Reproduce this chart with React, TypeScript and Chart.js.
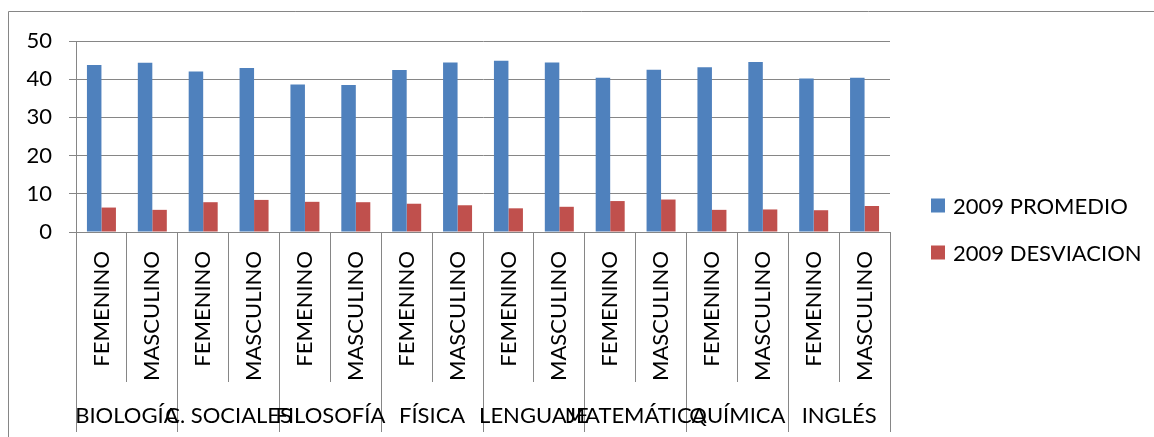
import React, { useEffect, useRef } from "react";
import { Chart, registerables } from "chart.js";

Chart.register(...registerables);

const SUBJECTS = ["BIOLOGÍA", "C. SOCIALES", "FILOSOFÍA", "FÍSICA", "LENGUAJE", "MATEMÁTICA", "QUÍMICA", "INGLÉS"];
const GENDERS = ["FEMENINO", "MASCULINO"];
const CATEGORIES = SUBJECTS.flatMap(() => GENDERS);
const PROMEDIO = [43.7, 44.3, 42.0, 42.9, 38.6, 38.5, 42.4, 44.4, 44.8, 44.4, 40.4, 42.5, 43.1, 44.5, 40.2, 40.4];
const DESVIACION = [6.4, 5.8, 7.8, 8.4, 7.9, 7.8, 7.4, 7.0, 6.2, 6.6, 8.1, 8.5, 5.8, 5.9, 5.7, 6.8];
const SERIES_LABELS = ["2009 PROMEDIO", "2009 DESVIACION"];
const COLORS = ["#4F81BD", "#C0504D"];
const Y_MIN = 0;
const Y_MAX = 50;
const Y_STEP = 10;

const FONT = "Lato";
const GRID = "#868686";

const framePlugin = {
  id: "frame",
  beforeDraw(chart: any) {
    const ctx = chart.ctx;
    ctx.save();
    ctx.fillStyle = "#ffffff";
    ctx.fillRect(0, 0, chart.width, chart.height);
    ctx.strokeStyle = GRID;
    ctx.lineWidth = 1;
    ctx.beginPath();
    ctx.moveTo(8.5, chart.height + 2);
    ctx.lineTo(8.5, 11.5);
    ctx.lineTo(chart.width + 2, 11.5);
    ctx.stroke();
    ctx.restore();
  },
};

const legendPlugin = {
  id: "customLegend",
  afterDraw(chart: any) {
    const ctx = chart.ctx;
    ctx.save();
    ctx.font = `22px ${FONT}`;
    ctx.textBaseline = "middle";
    ctx.textAlign = "left";
    chart.data.datasets.forEach((ds: any, i: number) => {
      const cy = 205.5 + i * 47;
      ctx.fillStyle = ds.backgroundColor;
      ctx.fillRect(931, cy - 7, 14, 14);
      ctx.fillStyle = "#000000";
      ctx.fillText(ds.label, 953, cy + 1);
    });
    ctx.restore();
  },
};

export default function App() {
  const canvasRef = useRef<HTMLCanvasElement | null>(null);

  useEffect(() => {
    if (!canvasRef.current) return;
    const chart = new Chart(canvasRef.current, {
      type: "bar",
      data: {
        labels: CATEGORIES,
        datasets: [
          { label: SERIES_LABELS[0], data: PROMEDIO, backgroundColor: COLORS[0], borderWidth: 0 },
          { label: SERIES_LABELS[1], data: DESVIACION, backgroundColor: COLORS[1], borderWidth: 0 },
        ],
      },
      options: {
        responsive: false,
        animation: false,
        devicePixelRatio: 1,
        layout: { padding: { left: 0, right: 264, top: 41, bottom: 0 } },
        datasets: { bar: { categoryPercentage: 0.57, barPercentage: 1.0 } },
        plugins: {
          legend: { display: false },
          tooltip: { enabled: false },
          title: { display: false },
        },
        scales: {
          x: {
            type: "category",
            position: "bottom",
            weight: 0,
            offset: true,
            grid: {
              display: true,
              drawOnChartArea: false,
              drawTicks: true,
              offset: true,
              tickLength: 150,
              color: GRID,
              lineWidth: 1,
            },
            border: { display: true, color: GRID, width: 1 },
            ticks: {
              autoSkip: false,
              minRotation: 90,
              maxRotation: 90,
              padding: -131,
              color: "#000000",
              font: { family: FONT, size: 22 },
            },
            afterFit: (scale: any) => {
              scale.height = 150;
            },
          },
          x2: {
            type: "category",
            position: "bottom",
            weight: 1,
            offset: true,
            labels: SUBJECTS,
            grid: {
              display: true,
              drawOnChartArea: false,
              drawTicks: true,
              offset: true,
              tickLength: 50,
              color: GRID,
              lineWidth: 1,
            },
            border: { display: false },
            ticks: {
              autoSkip: false,
              minRotation: 0,
              maxRotation: 0,
              padding: -29,
              color: "#000000",
              font: { family: FONT, size: 22 },
            },
            afterFit: (scale: any) => {
              scale.height = 55;
            },
          },
          y: {
            type: "linear",
            min: Y_MIN,
            max: Y_MAX,
            ticks: {
              stepSize: Y_STEP,
              padding: 17,
              color: "#000000",
              font: { family: FONT, size: 22 },
            },
            grid: {
              display: true,
              color: GRID,
              lineWidth: 1,
              drawTicks: true,
              tickLength: 7,
            },
            border: { display: true, color: GRID, width: 1 },
            afterFit: (scale: any) => {
              scale.width = 76;
            },
          },
        },
      },
      plugins: [framePlugin, legendPlugin],
    });
    return () => chart.destroy();
  }, []);

  return (
    <div style={{ position: "fixed", left: 0, top: 0, width: 1154, height: 437, background: "#fff" }}>
      <canvas ref={canvasRef} width={1154} height={437} style={{ display: "block" }} />
    </div>
  );
}
